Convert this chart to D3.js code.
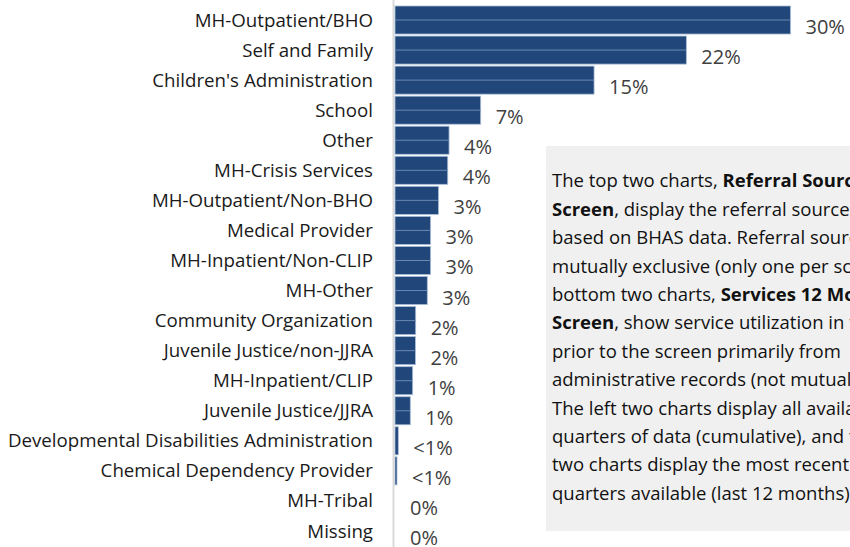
<!DOCTYPE html>
<html>
<head>
<meta charset="utf-8">
<script src="https://cdn.jsdelivr.net/npm/d3@7"></script>
<style>
  body { margin: 0; background: #fff; }
  svg { display: block; }
</style>
</head>
<body>
<script>
// categorieen en waarden (aflezen uit plaatje)
var categories = ["MH-Outpatient/BHO", "Self and Family", "Children's Administration", "School", "Other",
  "MH-Crisis Services", "MH-Outpatient/Non-BHO", "Medical Provider", "MH-Inpatient/Non-CLIP", "MH-Other",
  "Community Organization", "Juvenile Justice/non-JJRA", "MH-Inpatient/CLIP", "Juvenile Justice/JJRA",
  "Developmental Disabilities Administration", "Chemical Dependency Provider", "MH-Tribal", "Missing"];
var values = [30, 22.1, 15.1, 6.5, 4.1, 4.0, 3.3, 2.7, 2.7, 2.45, 1.57, 1.55, 1.34, 1.16, 0.25, 0.15, 0, 0];
var valueLabels = ["30%", "22%", "15%", "7%", "4%", "4%", "3%", "3%", "3%", "3%", "2%", "2%", "1%", "1%",
  "<1%", "<1%", "0%", "0%"];

// tekstblok rechts (regels zoals in het origineel, vet stuk apart)
var noteLines = [
  [["The top two charts, ", false], ["Referral Sources at", true]],
  [["Screen", true], [", display the referral sources of youth", false]],
  [["based on BHAS data. Referral sources are", false]],
  [["mutually exclusive (only one per screen). The", false]],
  [["bottom two charts, ", false], ["Services 12 Months Prior to", true]],
  [["Screen", true], [", show service utilization in the 12 months", false]],
  [["prior to the screen primarily from", false]],
  [["administrative records (not mutually exclusive).", false]],
  [["The left two charts display all available", false]],
  [["quarters of data (cumulative), and the right", false]],
  [["two charts display the most recent four", false]],
  [["quarters available (last 12 months).", false]]
];

var width = 850, height = 547;
var x0 = 395;

var svg = d3.select("body").append("svg")
    .attr("width", width)
    .attr("height", height)
    .style("font-family", "'Open Sans', sans-serif");

var x = d3.scaleLinear().domain([0, 30]).range([x0, 790.5]);
var y = d3.scaleBand().domain(categories).range([5, 546]).paddingInner(0.067).paddingOuter(0.033);

// as-lijn links
svg.append("line")
    .attr("x1", x0 - 1.5).attr("x2", x0 - 1.5)
    .attr("y1", 0).attr("y2", height)
    .attr("stroke", "#d9d9d9")
    .attr("stroke-width", 2);

// balken
var bar = svg.selectAll(".bar")
    .data(categories)
  .enter().append("g")
    .attr("class", "bar");

bar.filter(function(d, i) { return values[i] > 0; })
  .append("rect")
    .attr("x", x0)
    .attr("y", function(d) { return y(d); })
    .attr("width", function(d) { return x(values[categories.indexOf(d)]) - x0; })
    .attr("height", y.bandwidth())
    .attr("fill", "#21477a")
    .attr("stroke", "#a9bdd8")
    .attr("stroke-width", 0.8);

bar.filter(function(d, i) { return values[i] > 0.5; })
  .append("line")
    .attr("x1", x0)
    .attr("x2", function(d) { return x(values[categories.indexOf(d)]); })
    .attr("y1", function(d) { return y(d) + y.bandwidth() / 2; })
    .attr("y2", function(d) { return y(d) + y.bandwidth() / 2; })
    .attr("stroke", "#6a88b2")
    .attr("stroke-width", 1);

// waarde labels
bar.append("text")
    .attr("x", function(d, i) { return x(values[i]) + 15; })
    .attr("y", function(d) { return y(d) + y.bandwidth() / 2 + 7; })
    .attr("dy", "0.35em")
    .attr("fill", "#404040")
    .style("font-size", "20px")
    .text(function(d, i) { return valueLabels[i]; });

// categorie labels
bar.append("text")
    .attr("x", 373)
    .attr("y", function(d) { return y(d) + y.bandwidth() / 2; })
    .attr("dy", "0.35em")
    .attr("text-anchor", "end")
    .attr("fill", "#1a1a1a")
    .style("font-size", "18.7px")
    .text(function(d) { return d; });

// grijs tekstvak
svg.append("rect")
    .attr("x", 546).attr("y", 146)
    .attr("width", 320).attr("height", 385)
    .attr("fill", "#f0f0f0");

var note = svg.append("g");
noteLines.forEach(function(line, i) {
  var t = note.append("text")
      .attr("x", 552)
      .attr("y", 181 + i * 28.4)
      .attr("dy", "0.35em")
      .attr("fill", "#111")
      .style("font-size", "18.5px");
  line.forEach(function(part) {
    t.append("tspan")
      .style("font-weight", part[1] ? "bold" : "normal")
      .text(part[0]);
  });
});
</script>
</body>
</html>
